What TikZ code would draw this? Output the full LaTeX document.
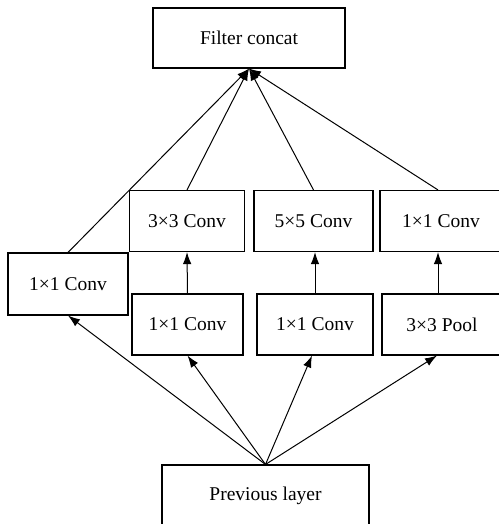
\documentclass[tikz,border=0pt]{standalone}
\usepackage{fontspec}
\setmainfont{Liberation Serif}
\usetikzlibrary{arrows.meta}
\begin{document}
\begin{tikzpicture}[x=1pt,y=-1pt,
  box/.style={draw,line width=1.1pt,rectangle,inner sep=0pt,font=\fontsize{19.5}{22}\selectfont},
  arr/.style={line width=1pt,-{Latex[length=12pt,width=8.5pt]}}]
\useasboundingbox (0,0) rectangle (498,524);
\node[box,minimum width=192pt,minimum height=60pt] (concat) at (249,38) {Filter concat};
\node[box,minimum width=120pt,minimum height=62pt] (left) at (68,284) {1×1 Conv};
\node[box,minimum width=115pt,minimum height=61pt] (c33) at (187,221) {3×3 Conv};
\node[box,minimum width=119pt,minimum height=61pt] (c55) at (313.5,221) {5×5 Conv};
\node[box,minimum width=122pt,minimum height=61pt] (r11) at (441,221) {1×1 Conv};
\node[box,minimum width=111pt,minimum height=61pt] (b1) at (187.5,324.5) {1×1 Conv};
\node[box,minimum width=116pt,minimum height=61pt] (b2) at (315,324.5) {1×1 Conv};
\node[box,minimum width=120pt,minimum height=61pt] (pool) at (442,324.5) {3×3 Pool};
\node[box,minimum width=207pt,minimum height=62pt] (prev) at (265.5,496) {Previous layer};
\coordinate (top) at (concat.south);
\coordinate (bot) at (prev.north);
\draw[arr] (left.north) -- (top);
\draw[arr] (c33.north) -- (top);
\draw[arr] (c55.north) -- (top);
\draw[arr] (r11.north -| 438,0) -- (top);
\draw[arr] (b1.north) -- (c33.south);
\draw[arr] (b2.north) -- (b2.north |- c55.south);
\draw[arr] (pool.north -| 438,0) -- (c55.south -| 438,0);
\draw[arr] (bot) -- (left.south);
\draw[arr] (bot) -- (b1.south);
\draw[arr] (bot) -- (b2.south -| 312,0);
\draw[arr] (bot) -- (pool.south -| 437,0);
\end{tikzpicture}
\end{document}
